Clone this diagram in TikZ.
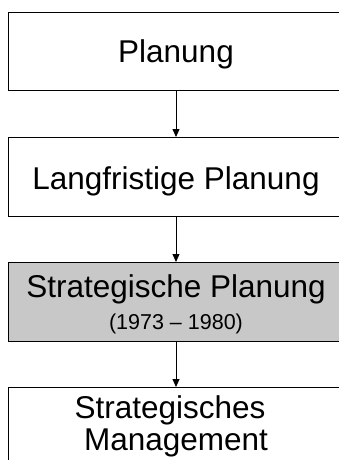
\documentclass[tikz,border=0pt]{standalone}
\usepackage{fontspec}
\setmainfont{Liberation Sans}
\usetikzlibrary{arrows.meta}
\definecolor{boxgray}{RGB}{200,200,200}
\begin{document}
\begin{tikzpicture}[x=1pt,y=1pt,
  stagebox/.style={draw=black,line width=1pt,minimum width=336pt,inner sep=0pt,anchor=north},
  bigtxt/.style={font=\fontsize{31.5}{32}\selectfont,inner sep=0pt,anchor=base},
  smalltxt/.style={font=\fontsize{21.5}{22}\selectfont,inner sep=0pt,anchor=base},
  flow/.style={line width=0.8pt,-{Triangle[width=7pt,length=8pt]}}]
\useasboundingbox (0,0) rectangle (339,-460);
\node[stagebox,minimum height=78pt] (b1) at (176,-12) {};
\node[stagebox,minimum height=79pt] (b2) at (176,-137) {};
\node[stagebox,minimum height=79pt,fill=boxgray] (b3) at (176,-262) {};
\node[stagebox,minimum height=90pt] (b4) at (176,-387) {};
\node[bigtxt] (t1) at (176,-63) {Planung};
\node[bigtxt] (t2) at (176,-189) {Langfristige Planung};
\node[bigtxt] (t3) at (176,-297) {Strategische Planung};
\node[smalltxt] (t3b) at (176,-329) {(1973 -- 1980)};
\node[bigtxt] (t4) at (170,-418) {Strategisches};
\node[bigtxt] (t4b) at (176,-450) {Management};
\draw[flow] (b1.south) -- (b2.north);
\draw[flow] (b2.south) -- (b3.north);
\draw[flow] (b3.south) -- (b4.north);
\end{tikzpicture}
\end{document}
